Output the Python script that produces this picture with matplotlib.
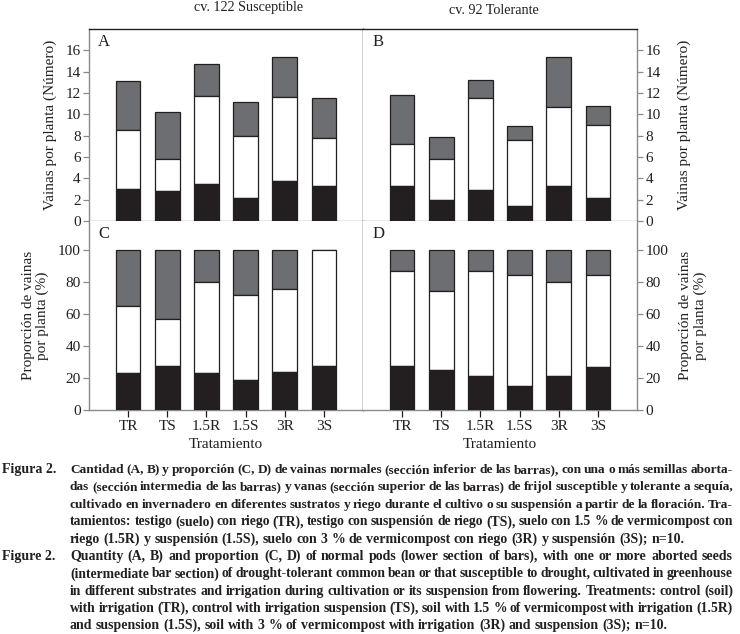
import numpy as np
import matplotlib
matplotlib.use("Agg")
import matplotlib.pyplot as plt

plt.rcParams['font.family'] = ['Liberation Serif', 'DejaVu Serif']

tratamientos = ['TR', 'TS', '1.5R', '1.5S', '3R', '3S']

# Panel A: cv. 122 susceptible, cumulative tops of each section (number of pods)
a_normal = [3.0, 2.8, 3.5, 2.15, 3.75, 3.3]
a_abortada = [8.5, 5.8, 11.7, 7.95, 11.6, 7.8]
a_total = [13.1, 10.25, 14.75, 11.2, 15.4, 11.55]

# Panel B: cv. 92 tolerante
b_normal = [3.25, 1.95, 2.9, 1.4, 3.25, 2.15]
b_abortada = [7.25, 5.8, 11.5, 7.55, 10.7, 9.0]
b_total = [11.8, 7.9, 13.2, 8.9, 15.35, 10.75]

# Panel C: proportions (%), cumulative
c_normal = [23.2, 27.6, 23.2, 18.8, 23.8, 27.6]
c_abortada = [65.2, 57.0, 79.7, 71.5, 75.3, 100.0]
c_total = [100, 100, 100, 100, 100, 100]

# Panel D
d_normal = [27.5, 25.0, 21.3, 15.0, 21.3, 26.8]
d_abortada = [87.0, 74.0, 87.0, 84.5, 80.0, 84.5]
d_total = [100, 100, 100, 100, 100, 100]

caption_es = [
    "Cantidad (A, B) y proporción (C, D) de vainas normales (sección inferior de las barras), con una o más semillas aborta-",
    "das (sección intermedia de las barras) y vanas (sección superior de las barras) de frijol susceptible y tolerante a sequía,",
    "cultivado en invernadero en diferentes sustratos y riego durante el cultivo o su suspensión a partir de la floración.  Tra-",
    "tamientos: testigo (suelo) con riego (TR), testigo con suspensión de riego (TS), suelo con 1.5 % de vermicompost con",
    "riego (1.5R) y suspensión (1.5S), suelo con 3 % de vermicompost con riego (3R) y suspensión (3S); n=10.",
]
caption_en = [
    "Quantity (A, B) and proportion (C, D) of normal pods (lower section of bars), with one or more aborted seeds",
    "(intermediate bar section) of drought-tolerant common bean or that susceptible to drought, cultivated in greenhouse",
    "in different substrates and irrigation during cultivation or its suspension from flowering. Treatments: control (soil)",
    "with irrigation (TR), control with irrigation suspension (TS), soil with 1.5 % of vermicompost with irrigation (1.5R)",
    "and suspension (1.5S), soil with 3 % of vermicompost with irrigation (3R) and suspension (3S); n=10.",
]

BLACK = '#231f20'
GRAY = '#6d6e71'
AXGRAY = '#8a8a8a'
W, H = 740, 634

fig = plt.figure(figsize=(W / 100, H / 100), dpi=100)

x0, xm, x1 = 89 / W, 363 / W, 637 / W
yt, ym, yb = 1 - 29 / H, 1 - 221 / H, 1 - 410 / H
axA = fig.add_axes([x0, ym, xm - x0, yt - ym])
axB = fig.add_axes([xm, ym, x1 - xm, yt - ym])
axC = fig.add_axes([x0, yb, xm - x0, ym - yb])
axD = fig.add_axes([xm, yb, x1 - xm, ym - yb])

x = np.arange(len(tratamientos))


def stack(ax, normal, abortada, total):
    normal = np.array(normal)
    abortada = np.array(abortada)
    total = np.array(total)
    kw = dict(width=0.63, edgecolor=BLACK, linewidth=0.9, zorder=3)
    ax.bar(x, total - abortada, bottom=abortada, color=GRAY, **kw)
    ax.bar(x, abortada - normal, bottom=normal, color='white', **kw)
    ax.bar(x, normal, color=BLACK, **kw)
    ax.set_xlim(-1, 6)


stack(axA, a_normal, a_abortada, a_total)
stack(axB, b_normal, b_abortada, b_total)
stack(axC, c_normal, c_abortada, c_total)
stack(axD, d_normal, d_abortada, d_total)

for ax in (axA, axB):
    ax.set_ylim(0, 18)
    ax.set_yticks(range(0, 17, 2))
for ax in (axC, axD):
    ax.set_ylim(0, 118)
    ax.set_yticks(range(0, 101, 20))

for ax in (axA, axB, axC, axD):
    for s in ax.spines.values():
        s.set_linewidth(1.0)
    ax.tick_params(axis='y', direction='out', length=4, width=0.9, color=AXGRAY,
                   labelsize=11, labelcolor=BLACK, pad=2)
    ax.tick_params(axis='x', direction='out', length=5, width=0.9, color=BLACK,
                   labelsize=11, labelcolor=BLACK, pad=2)

# spines
axA.spines['top'].set_color(BLACK)
axA.spines['right'].set_color(BLACK)
axA.spines['left'].set_color(AXGRAY)
axA.spines['bottom'].set_color(AXGRAY)
axB.spines['top'].set_color(BLACK)
axB.spines['left'].set_visible(False)
axB.spines['right'].set_color(AXGRAY)
axB.spines['bottom'].set_color(AXGRAY)
axC.spines['top'].set_visible(False)
axC.spines['right'].set_color(BLACK)
axC.spines['left'].set_color(AXGRAY)
axC.spines['bottom'].set_color(AXGRAY)
axD.spines['top'].set_visible(False)
axD.spines['left'].set_visible(False)
axD.spines['right'].set_color(AXGRAY)
axD.spines['bottom'].set_color(AXGRAY)

for ax in (axA, axB):
    ax.set_xticks([])
for ax in (axC, axD):
    ax.set_xticks(x)
    ax.set_xticklabels(tratamientos)
for ax in (axB, axD):
    ax.yaxis.tick_right()
    ax.yaxis.set_label_position('right')

lab = dict(fontsize=11, color=BLACK)
axA.set_ylabel('Vainas por planta (Número)', labelpad=6, **lab)
axB.set_ylabel('Vainas por planta (Número)', labelpad=12, rotation=90, **lab)
axC.set_ylabel('Proporción de vainas\npor planta (%)', labelpad=6, linespacing=1.1, **lab)
axD.set_ylabel('Proporción de vainas\npor planta (%)', labelpad=8, rotation=90,
               linespacing=1.1, **lab)
axC.set_xlabel('Tratamiento', labelpad=4, **lab)
axD.set_xlabel('Tratamiento', labelpad=4, **lab)

for ax, letter in zip((axA, axB, axC, axD), 'ABCD'):
    ax.text(0.033, 0.93, letter, transform=ax.transAxes, ha='left', va='center',
            fontsize=12, color=BLACK)

fig.text(249 / W, 1 - 8 / H, 'cv. 122 Susceptible', ha='center', va='center',
         fontsize=10.2, color=BLACK)
fig.text(494 / W, 1 - 11 / H, 'cv. 92 Tolerante', ha='center', va='center',
         fontsize=10.2, color=BLACK)

# caption with justified lines
renderer = fig.canvas.get_renderer()
CAP_SIZE = 10.0
cap = dict(fontweight='bold', color=BLACK, va='center', ha='left')
left_px, right_px = 70, 733


def line(txt, ypx, justify=True):
    words = txt.split()
    size = CAP_SIZE
    while True:
        texts = [fig.text(0, 1 - ypx / H, w, fontsize=size, **cap) for w in words]
        widths = [t.get_window_extent(renderer).width for t in texts]
        probe = fig.text(0, 0, 'a a', fontsize=size, **cap)
        probe2 = fig.text(0, 0, 'aa', fontsize=size, **cap)
        sw = probe.get_window_extent(renderer).width - probe2.get_window_extent(renderer).width
        probe.remove()
        probe2.remove()
        gap = (right_px - left_px - sum(widths)) / (len(words) - 1)
        if gap >= 0.75 * sw or size < 7:
            break
        for t in texts:
            t.remove()
        size -= 0.2
    if not justify:
        gap = sw
    xp = left_px
    for t, w in zip(texts, widths):
        t.set_x(xp / W)
        xp += w + gap


y0 = 470
step = 17.3
fig.text(2 / W, 1 - y0 / H, 'Figura 2.', fontsize=CAP_SIZE, **cap)
for i, t in enumerate(caption_es):
    line(t, y0 + i * step, justify=(i < len(caption_es) - 1))
y1 = y0 + 5 * step
fig.text(2 / W, 1 - y1 / H, 'Figure 2.', fontsize=CAP_SIZE, **cap)
for i, t in enumerate(caption_en):
    line(t, y1 + i * step, justify=(i < len(caption_en) - 1))

fig.savefig('out.png', dpi=100)
